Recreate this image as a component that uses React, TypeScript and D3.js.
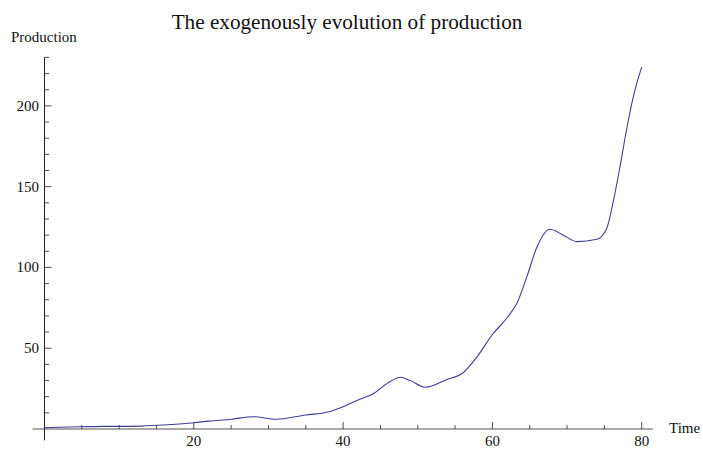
import * as d3 from 'd3';

const times = [0, 2, 5, 8, 10, 13, 15, 18, 20, 22, 25, 28, 31, 35, 38, 40, 42, 44, 46, 47.7, 49, 51, 54, 56, 58, 60, 62, 63.3, 64.6, 66, 67.7, 69.5, 71.3, 74, 75.3, 76.2, 77, 78, 79, 80];
const production = [0.8, 1.1, 1.4, 1.6, 1.6, 1.8, 2.3, 3.1, 3.9, 4.9, 6.0, 7.6, 6.0, 8.7, 10.5, 13.8, 18, 21.7, 28.5, 32, 30, 25.8, 30.8, 34.5, 45, 58.5, 69, 78, 94, 113, 123.6, 120, 116, 117.5, 124, 141, 160, 186, 208, 224];

const xMajor = [20, 40, 60, 80];
const xMinor = d3.range(5, 80, 5).filter((t) => t % 20 !== 0);
const yMajor = [50, 100, 150, 200];
const yMinor = d3.range(10, 240, 10).filter((v) => v % 50 !== 0);

const title = 'The exogenously evolution of production';
const xLabel = 'Time';
const yLabel = 'Production';

export default function App() {
  const width = 703;
  const height = 449;

  const x = d3.scaleLinear().domain([0, 80]).range([44.5, 641.7]);
  const y = d3.scaleLinear().domain([0, 200]).range([429, 105.9]);

  const pts = times.map((t, i) => [t, production[i]] as [number, number]);
  const line = d3
    .line<[number, number]>()
    .x((d) => x(d[0]))
    .y((d) => y(d[1]))
    .curve(d3.curveMonotoneX);

  const font = '"Liberation Serif", "Times New Roman", serif';
  const axisColor = '#555';

  return (
    <svg
      width={width}
      height={height}
      style={{ position: 'absolute', left: 0, top: 0, background: '#fff' }}
      fontFamily={font}
    >
      <text x={347} y={29} fontSize={21.2} textAnchor="middle" fill="#111">
        {title}
      </text>
      <text x={11} y={42} fontSize={15} fill="#111">
        {yLabel}
      </text>
      <text x={669} y={433} fontSize={15} fill="#111">
        {xLabel}
      </text>

      {/* x axis */}
      <line x1={x(-1.6)} x2={x(81.5)} y1={y(0)} y2={y(0)} stroke={axisColor} strokeWidth={1.2} />
      {xMajor.map((t) => (
        <g key={`xm${t}`}>
          <line x1={x(t)} x2={x(t)} y1={y(0)} y2={y(0) - 7} stroke="#222" strokeWidth={0.8} />
          <text x={x(t)} y={446} fontSize={15} textAnchor="middle" fill="#111">
            {t}
          </text>
        </g>
      ))}
      {xMinor.map((t) => (
        <line key={`xn${t}`} x1={x(t)} x2={x(t)} y1={y(0)} y2={y(0) - 4} stroke="#222" strokeWidth={0.8} />
      ))}

      {/* y axis */}
      <line x1={x(0)} x2={x(0)} y1={y(230)} y2={y(-7)} stroke="#222" strokeWidth={1} />
      {yMajor.map((v) => (
        <g key={`ym${v}`}>
          <line x1={x(0)} x2={x(0) + 7} y1={y(v)} y2={y(v)} stroke="#222" strokeWidth={0.8} />
          <text x={39} y={y(v) + 5} fontSize={15} textAnchor="end" fill="#111">
            {v}
          </text>
        </g>
      ))}
      {yMinor.map((v) => (
        <line key={`yn${v}`} x1={x(0)} x2={x(0) + 4.5} y1={y(v)} y2={y(v)} stroke="#222" strokeWidth={0.8} />
      ))}

      <path d={line(pts) as string} fill="none" stroke="#3d3d99" strokeWidth={1.1} strokeLinejoin="round" />
    </svg>
  );
}
